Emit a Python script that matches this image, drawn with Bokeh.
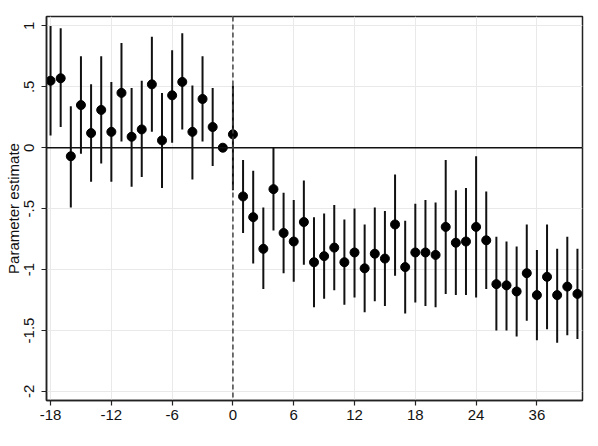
import math
from bokeh.plotting import figure
from bokeh.models import Range1d, FixedTicker, Span, ColumnDataSource
from bokeh.embed import file_html
from bokeh.resources import INLINE

NAN = float("nan")

periods = [-18, -17, -16, -15, -14, -13, -12, -11, -10, -9, -8, -7, -6, -5, -4, -3, -2, -1,
           0, 1, 2, 3, 4, 5, 6, 7, 8, 9, 10, 11, 12, 13, 14, 15, 16, 17, 18, 19, 20,
           21, 22, 23, 24, 25, 26, 27, 28, 29, 30, 31, 32, 33, 34]

estimates = [0.55, 0.57, -0.07, 0.35, 0.12, 0.31, 0.13, 0.45, 0.09, 0.15, 0.52, 0.06, 0.43, 0.54,
             0.13, 0.40, 0.17, 0.00,
             0.11, -0.40, -0.57, -0.83, -0.34, -0.70, -0.77, -0.61, -0.94, -0.89, -0.82, -0.94,
             -0.86, -0.99, -0.87, -0.91, -0.63, -0.98, -0.86, -0.86, -0.88, -0.65, -0.78, -0.77,
             -0.65, -0.76, -1.12, -1.13, -1.18, -1.03, -1.21, -1.06, -1.21, -1.14, -1.20]

upper = [1.00, 0.98, 0.34, 0.75, 0.52, 0.75, 0.54, 0.86, 0.49, 0.55, 0.91, 0.45, 0.80, 0.94,
         0.51, 0.75, 0.49, NAN,
         0.51, -0.10, -0.19, -0.49, 0.00, -0.37, -0.43, -0.27, -0.57, -0.54, -0.47, -0.59,
         -0.50, -0.63, -0.49, -0.52, -0.22, -0.60, -0.46, -0.43, -0.45, -0.10, -0.35, -0.33,
         -0.07, -0.36, -0.73, -0.77, -0.81, -0.63, -0.84, -0.63, -0.83, -0.73, -0.83]

lower = [0.10, 0.17, -0.49, -0.05, -0.28, -0.13, -0.28, 0.05, -0.32, -0.24, 0.13, -0.33, 0.04, 0.15,
         -0.26, 0.05, -0.15, NAN,
         -0.35, -0.70, -0.95, -1.16, -0.68, -1.03, -1.10, -0.96, -1.31, -1.24, -1.17, -1.29,
         -1.23, -1.35, -1.26, -1.30, -1.05, -1.36, -1.27, -1.30, -1.31, -1.20, -1.21, -1.21,
         -1.23, -1.16, -1.50, -1.50, -1.55, -1.42, -1.58, -1.49, -1.60, -1.54, -1.57]

x_tick_positions = [-18, -12, -6, 0, 6, 12, 18, 24, 30]
x_tick_labels = ["-18", "-12", "-6", "0", "6", "12", "18", "24", "36"]
y_tick_positions = [-2, -1.5, -1, -0.5, 0, 0.5, 1]
y_tick_labels = ["-2", "-1.5", "-1", "-.5", "0", ".5", "1"]
y_title = "Parameter estimate"

FONT = "Liberation Sans"
AX = "#222222"

p = figure(frame_width=536, frame_height=384, output_backend="svg", toolbar_location=None,
           x_range=Range1d(-18.4, 34.5), y_range=Range1d(-2.075, 1.077),
           min_border_left=46, min_border_right=16, min_border_top=16, min_border_bottom=46,
           background_fill_color="white", border_fill_color="white")

p.outline_line_color = AX
p.outline_line_width = 1.5

# axes
p.xaxis.ticker = FixedTicker(ticks=x_tick_positions)
p.xaxis.major_label_overrides = {t: l for t, l in zip(x_tick_positions, x_tick_labels)}
p.yaxis.ticker = FixedTicker(ticks=y_tick_positions)
p.yaxis.major_label_overrides = {t: l for t, l in zip(y_tick_positions, y_tick_labels)}
p.yaxis.axis_label = y_title
p.yaxis.major_label_orientation = "vertical"

for ax in (p.xaxis, p.yaxis):
    ax.axis_line_color = AX
    ax.axis_line_width = 1.5
    ax.major_tick_line_color = AX
    ax.major_tick_line_width = 1.2
    ax.major_tick_out = 5
    ax.major_tick_in = 0
    ax.minor_tick_line_color = None
    ax.major_label_text_font = FONT
    ax.major_label_text_font_size = "15px"
    ax.major_label_text_color = "#111111"
    ax.axis_label_text_font = FONT
    ax.axis_label_text_font_size = "15px"
    ax.axis_label_text_font_style = "normal"
    ax.axis_label_text_color = "#111111"

p.xaxis.major_label_standoff = 4
p.yaxis.major_label_standoff = 7
p.yaxis.axis_label_standoff = 0

p.xgrid.ticker = FixedTicker(ticks=x_tick_positions)
p.ygrid.ticker = FixedTicker(ticks=y_tick_positions)
p.grid.grid_line_color = "#e9e9e9"
p.grid.grid_line_width = 1

# reference lines
p.add_layout(Span(location=0, dimension="width", line_color="#111111", line_width=1.5))
p.add_layout(Span(location=0, dimension="height", line_color="#444444", line_width=1.5,
                  line_dash="5 3"))

src = ColumnDataSource(dict(x=periods, y=estimates, lo=lower, hi=upper))
p.segment(x0="x", y0="lo", x1="x", y1="hi", source=src, line_color="#111111", line_width=2)
p.scatter(x="x", y="y", source=src, size=9, fill_color="black", line_color="black")

open("out.html", "w").write(file_html(p, INLINE))
